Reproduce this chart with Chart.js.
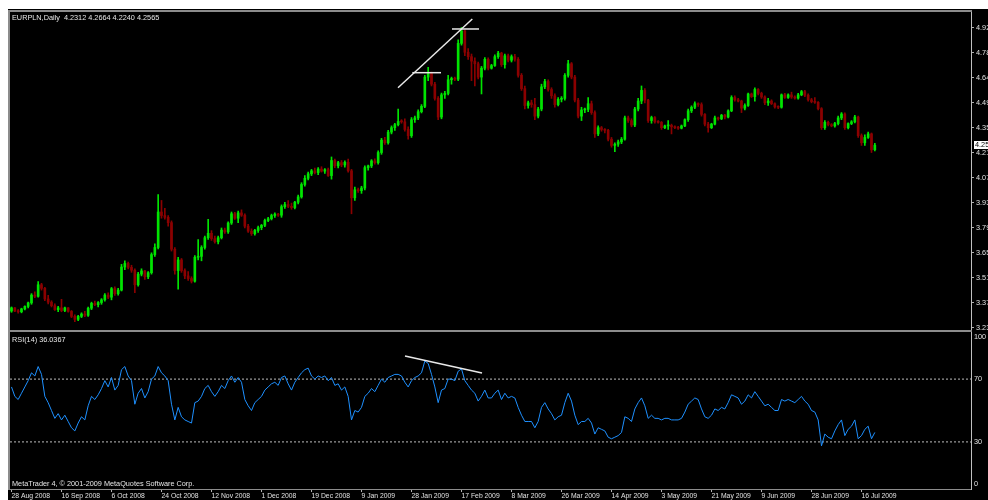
<!DOCTYPE html>
<html>
<head>
<meta charset="utf-8">
<title>EURPLN,Daily</title>
<script src="https://cdn.jsdelivr.net/npm/chart.js@4.4.1/dist/chart.umd.min.js"></script>
<style>
  html, body { margin: 0; padding: 0; background: #ffffff; }
  body { position: relative; width: 988px; height: 500px; overflow: hidden; }
  #terminal { position: absolute; left: 8px; top: 9px; width: 980px; height: 491px; background: #000000; }
  canvas { position: absolute; left: 0; }
  #priceCanvas { top: 0; }
  #rsiCanvas { top: 320px; }
  .caption { position: absolute; left: 12px; color: #e6e6e6; font: 7.3px/9px 'Liberation Sans', Arial, sans-serif; white-space: pre; }
</style>
</head>
<body>
<div id="terminal"></div>
<canvas id="priceCanvas" width="988" height="345"></canvas>
<canvas id="rsiCanvas" width="988" height="180"></canvas>
<div class="caption" id="priceCaption" style="top:13px"></div>
<div class="caption" id="rsiCaption" style="top:335px"></div>
<div class="caption" style="top:479px">MetaTrader 4, © 2001-2009 MetaQuotes Software Corp.</div>
<script>
// EURPLN daily candles with RSI(14) underneath, MT4 look

// bars are numbered 0..259, one date label every 15 bars
const dateLabels = ['28 Aug 2008', '16 Sep 2008', '6 Oct 2008', '24 Oct 2008', '12 Nov 2008', '1 Dec 2008',
  '19 Dec 2008', '9 Jan 2009', '28 Jan 2009', '17 Feb 2009', '8 Mar 2009', '26 Mar 2009',
  '14 Apr 2009', '3 May 2009', '21 May 2009', '9 Jun 2009', '28 Jun 2009', '16 Jul 2009'];
const dateTicks = [0, 15, 30, 45, 60, 75, 90, 105, 120, 135, 150, 165, 180, 195, 210, 225, 240, 255];

const priceTicks = [3.2265, 3.3674, 3.5082, 3.6491, 3.7899, 3.9308, 4.0716, 4.2125, 4.3533, 4.4942, 4.6350, 4.7759, 4.9167];
const priceTickLabels = ['3.23', '3.37', '3.51', '3.65', '3.79', '3.93', '4.07', '4.21', '4.35', '4.49', '4.64', '4.78', '4.92'];

const rsiTickValues = [0, 30, 70, 100];
const rsiTickLabels = ['0', '30', '70', '100'];
const rsiLevels = [30, 70];

const opens = [
  3.322, 3.340, 3.322, 3.318, 3.334, 3.348, 3.368, 3.412, 3.405, 3.470, 3.450, 3.390, 3.372, 3.352, 3.330,
  3.340, 3.325, 3.340, 3.320, 3.292, 3.275, 3.292, 3.305, 3.298, 3.338, 3.365, 3.358, 3.370, 3.385, 3.412,
  3.400, 3.448, 3.420, 3.440, 3.570, 3.590, 3.568, 3.552, 3.470, 3.530, 3.548, 3.515, 3.538, 3.640, 3.680,
  3.880, 3.860, 3.850, 3.820, 3.670, 3.550, 3.610, 3.550, 3.520, 3.505, 3.490, 3.625, 3.630, 3.680, 3.735,
  3.760, 3.730, 3.712, 3.735, 3.778, 3.768, 3.818, 3.870, 3.845, 3.875, 3.862, 3.800, 3.772, 3.758, 3.776,
  3.792, 3.805, 3.832, 3.842, 3.860, 3.868, 3.862, 3.910, 3.922, 3.912, 3.905, 3.935, 3.965, 4.035, 4.070,
  4.095, 4.112, 4.102, 4.122, 4.110, 4.118, 4.085, 4.170, 4.140, 4.158, 4.145, 4.160, 4.112, 3.960, 4.005,
  4.000, 4.015, 4.130, 4.140, 4.168, 4.158, 4.215, 4.285, 4.270, 4.330, 4.355, 4.372, 4.390, 4.388, 4.345,
  4.310, 4.400, 4.410, 4.445, 4.475, 4.640, 4.660, 4.600, 4.520, 4.415, 4.540, 4.548, 4.625, 4.632, 4.628,
  4.830, 4.900, 4.780, 4.755, 4.730, 4.715, 4.640, 4.690, 4.740, 4.690, 4.705, 4.755, 4.775, 4.710, 4.760,
  4.735, 4.755, 4.740, 4.650, 4.575, 4.480, 4.495, 4.485, 4.420, 4.460, 4.585, 4.615, 4.570, 4.535, 4.485,
  4.515, 4.520, 4.650, 4.715, 4.640, 4.510, 4.420, 4.455, 4.458, 4.490, 4.440, 4.320, 4.355, 4.345, 4.340,
  4.290, 4.255, 4.262, 4.275, 4.290, 4.410, 4.395, 4.370, 4.460, 4.505, 4.565, 4.510, 4.395, 4.412, 4.388,
  4.385, 4.355, 4.365, 4.368, 4.360, 4.355, 4.352, 4.365, 4.400, 4.450, 4.470, 4.490, 4.485, 4.430, 4.375,
  4.355, 4.375, 4.410, 4.405, 4.425, 4.415, 4.450, 4.525, 4.512, 4.505, 4.465, 4.480, 4.545, 4.530, 4.570,
  4.548, 4.528, 4.495, 4.505, 4.490, 4.472, 4.470, 4.540, 4.525, 4.540, 4.528, 4.522, 4.540, 4.558, 4.538,
  4.512, 4.502, 4.498, 4.462, 4.355, 4.385, 4.372, 4.365, 4.378, 4.410, 4.432, 4.355, 4.378, 4.388, 4.415,
  4.310, 4.270, 4.300, 4.320, 4.2312
];
const highs = [
  3.345, 3.342, 3.330, 3.338, 3.352, 3.372, 3.420, 3.430, 3.488, 3.478, 3.455, 3.410, 3.380, 3.362, 3.348,
  3.388, 3.345, 3.342, 3.325, 3.300, 3.298, 3.312, 3.320, 3.345, 3.372, 3.378, 3.375, 3.392, 3.420, 3.425,
  3.455, 3.458, 3.450, 3.585, 3.605, 3.598, 3.580, 3.560, 3.540, 3.560, 3.552, 3.545, 3.650, 3.700, 3.978,
  3.945, 3.900, 3.860, 3.830, 3.680, 3.625, 3.618, 3.560, 3.545, 3.515, 3.635, 3.725, 3.690, 3.745, 3.838,
  3.775, 3.745, 3.745, 3.790, 3.790, 3.825, 3.880, 3.878, 3.885, 3.892, 3.870, 3.810, 3.785, 3.782, 3.800,
  3.810, 3.840, 3.850, 3.868, 3.875, 3.872, 3.920, 3.935, 3.945, 3.930, 3.940, 3.975, 4.045, 4.085, 4.105,
  4.120, 4.128, 4.130, 4.135, 4.125, 4.128, 4.190, 4.178, 4.165, 4.170, 4.168, 4.178, 4.120, 4.020, 4.015,
  4.025, 4.140, 4.145, 4.175, 4.180, 4.225, 4.295, 4.300, 4.340, 4.365, 4.380, 4.460, 4.400, 4.405, 4.360,
  4.412, 4.420, 4.455, 4.485, 4.650, 4.695, 4.668, 4.610, 4.530, 4.550, 4.560, 4.650, 4.640, 4.640, 4.850,
  4.920, 4.905, 4.800, 4.770, 4.748, 4.725, 4.700, 4.750, 4.748, 4.712, 4.765, 4.785, 4.780, 4.770, 4.770,
  4.765, 4.768, 4.750, 4.660, 4.590, 4.505, 4.510, 4.520, 4.470, 4.600, 4.628, 4.625, 4.580, 4.545, 4.525,
  4.530, 4.660, 4.735, 4.722, 4.650, 4.520, 4.470, 4.465, 4.525, 4.505, 4.450, 4.365, 4.362, 4.350, 4.345,
  4.300, 4.270, 4.285, 4.300, 4.420, 4.420, 4.405, 4.470, 4.520, 4.590, 4.575, 4.515, 4.420, 4.418, 4.395,
  4.390, 4.370, 4.395, 4.375, 4.365, 4.362, 4.370, 4.405, 4.460, 4.478, 4.500, 4.495, 4.495, 4.435, 4.385,
  4.380, 4.420, 4.415, 4.430, 4.430, 4.455, 4.535, 4.535, 4.520, 4.510, 4.490, 4.550, 4.550, 4.580, 4.575,
  4.555, 4.535, 4.520, 4.512, 4.495, 4.478, 4.545, 4.548, 4.545, 4.555, 4.535, 4.548, 4.565, 4.565, 4.545,
  4.520, 4.525, 4.502, 4.468, 4.395, 4.392, 4.378, 4.385, 4.420, 4.440, 4.438, 4.382, 4.395, 4.425, 4.420,
  4.320, 4.315, 4.330, 4.325, 4.2664
];
const lows = [
  3.315, 3.318, 3.310, 3.312, 3.328, 3.340, 3.360, 3.398, 3.400, 3.440, 3.380, 3.362, 3.345, 3.325, 3.318,
  3.318, 3.318, 3.315, 3.285, 3.262, 3.268, 3.285, 3.290, 3.292, 3.330, 3.352, 3.345, 3.360, 3.378, 3.392,
  3.385, 3.410, 3.412, 3.435, 3.555, 3.560, 3.540, 3.425, 3.462, 3.520, 3.500, 3.505, 3.530, 3.630, 3.672,
  3.845, 3.840, 3.800, 3.660, 3.530, 3.445, 3.540, 3.505, 3.495, 3.480, 3.485, 3.610, 3.605, 3.670, 3.725,
  3.720, 3.705, 3.700, 3.728, 3.760, 3.760, 3.810, 3.838, 3.820, 3.855, 3.790, 3.765, 3.748, 3.750, 3.765,
  3.780, 3.798, 3.825, 3.835, 3.850, 3.855, 3.850, 3.900, 3.905, 3.895, 3.898, 3.925, 3.958, 4.025, 4.060,
  4.085, 4.095, 4.090, 4.105, 4.098, 4.080, 4.065, 4.130, 4.128, 4.135, 4.132, 4.105, 3.870, 3.945, 3.990,
  3.985, 4.005, 4.115, 4.130, 4.150, 4.150, 4.205, 4.260, 4.262, 4.320, 4.340, 4.365, 4.380, 4.335, 4.290,
  4.300, 4.385, 4.400, 4.438, 4.468, 4.620, 4.590, 4.510, 4.400, 4.405, 4.520, 4.540, 4.600, 4.620, 4.620,
  4.820, 4.760, 4.740, 4.620, 4.590, 4.630, 4.545, 4.680, 4.680, 4.685, 4.700, 4.745, 4.700, 4.690, 4.725,
  4.725, 4.730, 4.640, 4.565, 4.460, 4.465, 4.470, 4.400, 4.410, 4.450, 4.575, 4.560, 4.520, 4.470, 4.478,
  4.500, 4.510, 4.640, 4.630, 4.500, 4.410, 4.395, 4.440, 4.445, 4.430, 4.300, 4.310, 4.335, 4.325, 4.280,
  4.245, 4.220, 4.250, 4.265, 4.285, 4.385, 4.360, 4.360, 4.450, 4.490, 4.495, 4.385, 4.380, 4.380, 4.380,
  4.345, 4.350, 4.345, 4.320, 4.350, 4.345, 4.348, 4.360, 4.390, 4.440, 4.462, 4.475, 4.420, 4.365, 4.330,
  4.350, 4.370, 4.398, 4.400, 4.405, 4.410, 4.445, 4.505, 4.500, 4.440, 4.455, 4.475, 4.525, 4.505, 4.540,
  4.520, 4.485, 4.480, 4.485, 4.465, 4.462, 4.465, 4.520, 4.520, 4.520, 4.515, 4.515, 4.535, 4.530, 4.505,
  4.495, 4.492, 4.455, 4.345, 4.345, 4.365, 4.360, 4.358, 4.370, 4.400, 4.345, 4.348, 4.372, 4.382, 4.300,
  4.255, 4.255, 4.295, 4.215, 4.2240
];
const closes = [
  3.340, 3.322, 3.318, 3.334, 3.348, 3.368, 3.412, 3.405, 3.470, 3.450, 3.390, 3.372, 3.352, 3.330, 3.340,
  3.325, 3.340, 3.320, 3.292, 3.275, 3.292, 3.305, 3.298, 3.338, 3.365, 3.358, 3.370, 3.385, 3.412, 3.400,
  3.448, 3.420, 3.440, 3.570, 3.590, 3.568, 3.552, 3.470, 3.530, 3.548, 3.515, 3.538, 3.640, 3.680, 3.880,
  3.860, 3.850, 3.820, 3.670, 3.550, 3.610, 3.550, 3.520, 3.505, 3.490, 3.625, 3.630, 3.680, 3.735, 3.760,
  3.730, 3.712, 3.735, 3.778, 3.768, 3.818, 3.870, 3.845, 3.875, 3.862, 3.800, 3.772, 3.758, 3.776, 3.792,
  3.805, 3.832, 3.842, 3.860, 3.868, 3.862, 3.910, 3.922, 3.912, 3.905, 3.935, 3.965, 4.035, 4.070, 4.095,
  4.112, 4.102, 4.122, 4.110, 4.118, 4.085, 4.170, 4.140, 4.158, 4.145, 4.160, 4.112, 3.960, 4.005, 4.000,
  4.015, 4.130, 4.140, 4.168, 4.158, 4.215, 4.285, 4.270, 4.330, 4.355, 4.372, 4.390, 4.388, 4.345, 4.310,
  4.400, 4.410, 4.445, 4.475, 4.640, 4.660, 4.600, 4.520, 4.415, 4.540, 4.548, 4.625, 4.632, 4.628, 4.830,
  4.900, 4.780, 4.755, 4.730, 4.715, 4.640, 4.690, 4.740, 4.690, 4.705, 4.755, 4.775, 4.710, 4.760, 4.735,
  4.755, 4.740, 4.650, 4.575, 4.480, 4.495, 4.485, 4.420, 4.460, 4.585, 4.615, 4.570, 4.535, 4.485, 4.515,
  4.520, 4.650, 4.715, 4.640, 4.510, 4.420, 4.455, 4.458, 4.490, 4.440, 4.320, 4.355, 4.345, 4.340, 4.290,
  4.255, 4.262, 4.275, 4.290, 4.410, 4.395, 4.370, 4.460, 4.505, 4.565, 4.510, 4.395, 4.412, 4.388, 4.385,
  4.355, 4.365, 4.368, 4.360, 4.355, 4.352, 4.365, 4.400, 4.450, 4.470, 4.490, 4.485, 4.430, 4.375, 4.355,
  4.375, 4.410, 4.405, 4.425, 4.415, 4.450, 4.525, 4.512, 4.505, 4.465, 4.480, 4.545, 4.530, 4.570, 4.548,
  4.528, 4.495, 4.505, 4.490, 4.472, 4.470, 4.540, 4.525, 4.540, 4.528, 4.522, 4.540, 4.558, 4.538, 4.512,
  4.502, 4.498, 4.462, 4.355, 4.385, 4.372, 4.365, 4.378, 4.410, 4.432, 4.355, 4.378, 4.388, 4.415, 4.310,
  4.270, 4.300, 4.320, 4.230, 4.2565
];
const rsiValues = [
  65, 59, 57, 61, 65, 69, 74, 72, 78, 73, 59, 55, 50, 45, 48,
  44, 47, 43, 39, 37, 42, 46, 44, 53, 59, 57, 60, 64, 69, 65,
  71, 63, 66, 76, 78, 72, 69, 54, 61, 64, 58, 62, 70, 72, 78,
  74, 72, 69, 54, 44, 52, 46, 44, 43, 42, 55, 56, 59, 64, 66,
  62, 59, 62, 66, 64, 69, 72, 68, 71, 68, 57, 53, 50, 55, 57,
  59, 63, 65, 67, 68, 66, 71, 72, 67, 63, 68, 71, 74, 76, 77,
  72, 70, 72, 71, 72, 69, 71, 66, 67, 63, 65, 59, 44, 50, 49,
  52, 59, 61, 64, 62, 66, 70, 68, 71, 72, 73, 73, 72, 68, 65,
  69, 71, 72, 74, 81.5, 80, 73, 65, 55, 63, 64, 70, 70, 69, 75,
  76.5, 69, 66, 63, 61, 56, 59, 63, 58, 58, 61, 63, 57, 61, 58,
  59, 58, 52, 47, 43, 43, 43, 39, 43, 52, 55, 51, 48, 44, 46,
  47, 55, 61, 56, 47, 41, 43, 43, 45, 42, 35, 39, 38, 37, 33,
  32, 33, 34, 36, 46, 45, 43, 51, 55, 58, 53, 45, 47, 45, 45,
  44, 45, 45, 44, 44, 44, 45, 49, 54, 56, 58, 57, 51, 46, 45,
  47, 51, 50, 52, 51, 55, 60, 59, 58, 54, 56, 60, 58, 62, 59,
  56, 53, 54, 52, 50, 50, 57, 56, 57, 56, 55, 57, 59, 56, 54,
  50, 49, 44, 27.5, 35, 33, 32, 37, 41, 44, 34, 38, 40, 44, 32,
  34, 38, 40, 32, 36.0367
];

// hand-drawn lines on the chart (bar number, value)
const trendLine = [{ x: 115.95, y: 4.5803 }, { x: 138.24, y: 4.9673 }];
const firstTopLine = [{ x: 120.24, y: 4.6648 }, { x: 128.85, y: 4.6648 }];
const secondTopLine = [{ x: 132.15, y: 4.9110 }, { x: 140.25, y: 4.9110 }];
const rsiTrendLine = [{ x: 118.05, y: 84.7 }, { x: 141.15, y: 73.9 }];

const last = closes.length - 1;
const X_MIN = -0.45, X_MAX = 287.85;
const upColor = '#00e400';
const downColor = '#8b0000';
const candleColors = closes.map((c, i) => c >= opens[i] ? upColor : downColor);
const fontFamily = "'Liberation Sans', Arial, sans-serif";
const tickFont = { family: fontFamily, size: 7.3 };
const dateFont = { family: fontFamily, size: 6.8 };

document.getElementById('priceCaption').textContent =
  'EURPLN,Daily  ' + [opens[last], highs[last], lows[last], closes[last]].map(v => v.toFixed(4)).join(' ');
document.getElementById('rsiCaption').textContent = 'RSI(14) ' + rsiValues[last].toFixed(4);

const priceFrame = {
  id: 'priceFrame',
  afterDraw(chart) {
    const ctx = chart.ctx;
    const y = Math.round(chart.scales.y.getPixelForValue(closes[last]));
    ctx.save();
    ctx.fillStyle = '#8c8c8c';
    ctx.fillRect(8, 10, 964, 2);
    ctx.fillRect(8, 10, 2, 322);
    ctx.fillRect(8, 330, 964, 2);
    // current price marker on the axis
    ctx.fillStyle = '#ffffff';
    ctx.fillRect(974, y - 4, 20, 8);
    ctx.fillStyle = '#000000';
    ctx.font = '7.3px ' + fontFamily;
    ctx.textBaseline = 'middle';
    ctx.fillText(closes[last].toFixed(4), 975, y);
    ctx.restore();
  }
};

const rsiFrame = {
  id: 'rsiFrame',
  afterDraw(chart) {
    const ctx = chart.ctx, a = chart.chartArea, s = chart.scales.y;
    ctx.save();
    ctx.fillStyle = '#8c8c8c';
    ctx.fillRect(8, 12, 2, a.bottom - 11);
    ctx.fillStyle = '#e0e0e0';
    ctx.font = '7.3px ' + fontFamily;
    ctx.textBaseline = 'middle';
    rsiTickValues.forEach((v, i) => {
      const y = Math.min(Math.max(s.getPixelForValue(v), a.top + 5), a.bottom - 5);
      ctx.fillText(rsiTickLabels[i], a.right + 3, y);
    });
    ctx.restore();
  }
};

const drawnLine = (data) => ({
  type: 'line', data: data, borderColor: '#e8e8e8', borderWidth: 1.5, pointRadius: 0, order: 0
});

new Chart(document.getElementById('priceCanvas'), {
  type: 'bar',
  data: {
    datasets: [
      drawnLine(trendLine),
      drawnLine(firstTopLine),
      drawnLine(secondTopLine),
      {
        data: opens.map((o, i) => ({ x: i, y: [o, closes[i]] })),
        backgroundColor: candleColors, barThickness: 2, minBarLength: 1, grouped: false, order: 1
      },
      {
        data: lows.map((l, i) => ({ x: i, y: [l, highs[i]] })),
        backgroundColor: candleColors, barThickness: 1, grouped: false, order: 2
      }
    ]
  },
  options: {
    responsive: false,
    animation: false,
    events: [],
    layout: { padding: { left: 10, top: 12, right: 0, bottom: 15 } },
    plugins: { legend: { display: false }, tooltip: { enabled: false } },
    scales: {
      x: { type: 'linear', min: X_MIN, max: X_MAX, offset: false, display: false },
      y: {
        position: 'right', min: 3.2152, max: 5.0067, beginAtZero: false,
        afterFit: s => { s.width = 17; },
        afterBuildTicks: s => { s.ticks = priceTicks.map(v => ({ value: v })); },
        grid: { drawOnChartArea: false, tickLength: 3, color: '#b0b0b0' },
        border: { color: '#c0c0c0' },
        ticks: { color: '#e0e0e0', font: tickFont, padding: 2, autoSkip: false,
                 callback: (v, i) => priceTickLabels[i] }
      }
    }
  },
  plugins: [priceFrame]
});

new Chart(document.getElementById('rsiCanvas'), {
  type: 'line',
  data: {
    datasets: [
      drawnLine(rsiTrendLine),
      {
        data: rsiValues.map((v, i) => ({ x: i, y: v })),
        borderColor: '#1e90ff', borderWidth: 1, pointRadius: 0, order: 1
      },
      ...rsiLevels.map(lv => ({
        data: [{ x: X_MIN, y: lv }, { x: X_MAX, y: lv }],
        borderColor: '#bdbdbd', borderWidth: 1, borderDash: [2, 2], pointRadius: 0, order: 2
      }))
    ]
  },
  options: {
    responsive: false,
    animation: false,
    events: [],
    layout: { padding: { left: 10, top: 12, right: 0, bottom: 0 } },
    plugins: { legend: { display: false }, tooltip: { enabled: false } },
    scales: {
      x: {
        type: 'linear', min: X_MIN, max: X_MAX, offset: false,
        afterFit: s => { s.height = 11; },
        afterBuildTicks: s => { s.ticks = dateTicks.map(v => ({ value: v })); },
        grid: { drawOnChartArea: false, tickLength: 3, color: '#b0b0b0' },
        border: { color: '#8c8c8c' },
        ticks: { color: '#e0e0e0', font: dateFont, padding: 0, align: 'start', maxRotation: 0,
                 autoSkip: false, callback: (v, i) => dateLabels[i] }
      },
      y: {
        position: 'right', min: 0, max: 100,
        afterFit: s => { s.width = 17; },
        grid: { display: false },
        border: { color: '#c0c0c0' },
        ticks: { display: false }
      }
    }
  },
  plugins: [rsiFrame]
});
</script>
</body>
</html>
